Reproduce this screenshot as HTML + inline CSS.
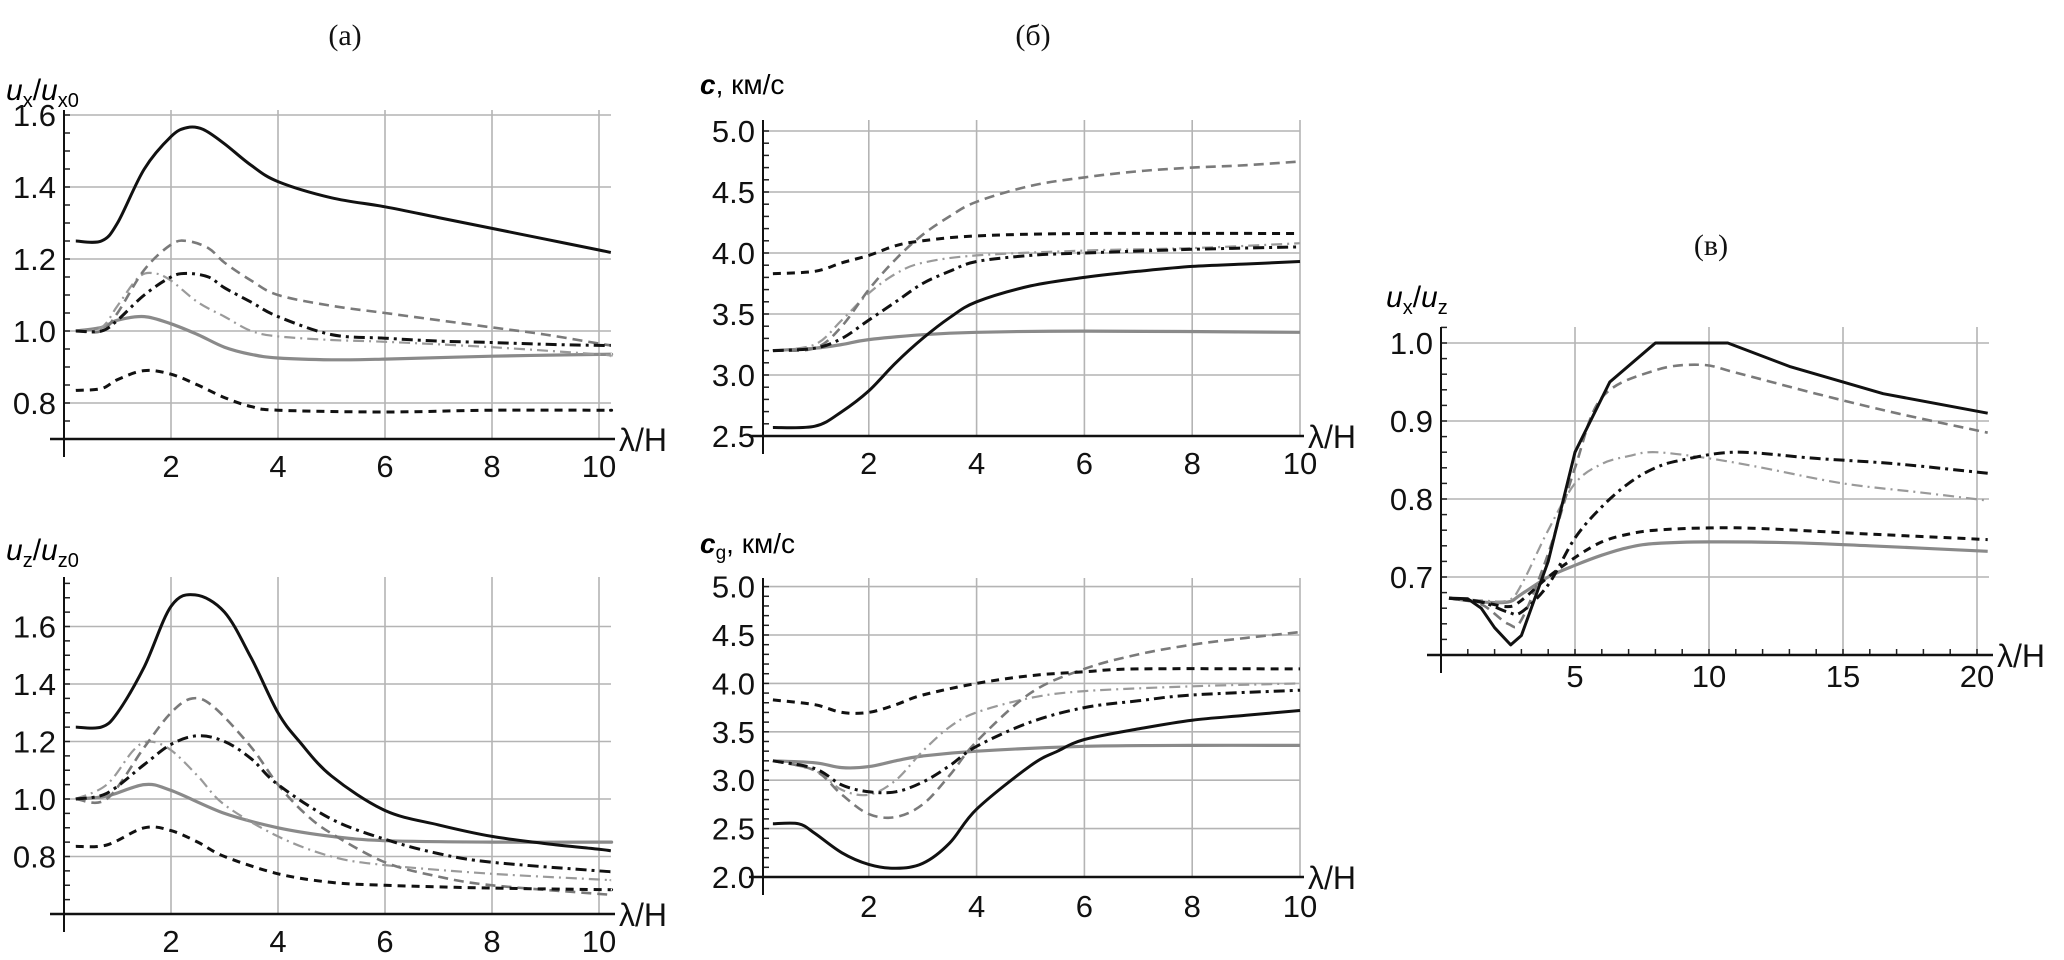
<!DOCTYPE html>
<html><head><meta charset="utf-8">
<style>
html,body{margin:0;padding:0;background:#fff;}
svg{display:block;}
text{font-family:"Liberation Sans",sans-serif;}
.tick{font-size:31px;fill:#111;}
.ttl{font-family:"Liberation Serif",serif;font-size:30px;fill:#111;}
</style></head>
<body>
<svg id="fig" width="2064" height="960" viewBox="0 0 2064 960" xmlns="http://www.w3.org/2000/svg">
<text class="ttl" x="345" y="45" text-anchor="middle">(a)</text>
<text class="ttl" x="1033" y="45" text-anchor="middle">(б)</text>
<text class="ttl" x="1711" y="255" text-anchor="middle">(в)</text>

<text x="6" y="100" font-size="30"><tspan font-style="italic">u</tspan><tspan font-size="20" dy="7">x</tspan><tspan dy="-7">/</tspan><tspan font-style="italic">u</tspan><tspan font-size="20" dy="7">x0</tspan></text>
<text x="6" y="560" font-size="30"><tspan font-style="italic">u</tspan><tspan font-size="20" dy="7">z</tspan><tspan dy="-7">/</tspan><tspan font-style="italic">u</tspan><tspan font-size="20" dy="7">z0</tspan></text>
<text x="700" y="94" font-size="28"><tspan font-style="italic" font-weight="bold">c</tspan>, км/с</text>
<text x="700" y="553" font-size="28"><tspan font-style="italic" font-weight="bold">c</tspan><tspan font-size="19" dy="6">g</tspan><tspan dy="-6">, км/с</tspan></text>
<text x="1386" y="307" font-size="30"><tspan font-style="italic">u</tspan><tspan font-size="20" dy="7">x</tspan><tspan dy="-7">/</tspan><tspan font-style="italic">u</tspan><tspan font-size="20" dy="7">z</tspan></text>
</svg>
<script>
// ---- panel (a) top: ux/ux0 ----
const aTopBlackSolidX=[0.22,0.7,1,1.5,2,2.3,2.6,3,3.5,4,5,6,7,8,9,10,10.22];
const aTopBlackSolidY=[1.25,1.25,1.3,1.45,1.54,1.565,1.56,1.52,1.46,1.415,1.37,1.345,1.315,1.285,1.255,1.225,1.218];
const aTopGrayDashedX=[0.22,0.7,1,1.5,2,2.3,2.7,3,3.5,4,5,6,7,8,9,10,10.22];
const aTopGrayDashedY=[1.0,1.0,1.05,1.17,1.24,1.25,1.23,1.19,1.14,1.1,1.07,1.05,1.03,1.01,0.99,0.965,0.96];
const aTopBlackDashDotX=[0.22,0.7,1,1.5,2,2.3,2.7,3,3.5,4,5,6,7,8,9,10,10.22];
const aTopBlackDashDotY=[1.0,1.0,1.03,1.1,1.15,1.16,1.15,1.12,1.08,1.04,0.99,0.98,0.972,0.968,0.963,0.96,0.96];
const aTopLightDashDotX=[0.22,0.7,1,1.4,1.7,2,2.5,3,3.5,4,5,6,8,10,10.22];
const aTopLightDashDotY=[1.0,1.01,1.07,1.15,1.16,1.14,1.08,1.04,1.0,0.985,0.975,0.97,0.955,0.935,0.93];
const aTopGraySolidX=[0.22,0.7,1,1.5,2,2.5,3,3.5,4,5,6,8,10,10.22];
const aTopGraySolidY=[1.0,1.01,1.03,1.04,1.02,0.99,0.955,0.935,0.925,0.92,0.922,0.93,0.935,0.935];
const aTopBlackDashedX=[0.22,0.7,1,1.5,2,2.5,3,3.5,4,6,8,10,10.22];
const aTopBlackDashedY=[0.835,0.84,0.865,0.89,0.88,0.85,0.815,0.79,0.78,0.775,0.78,0.78,0.78];
const aTopYTicks=[0.8,1.0,1.2,1.4,1.6];
const aTopYTickLabels=["0.8","1.0","1.2","1.4","1.6"];
const aXTicks=[2,4,6,8,10];
const aXTickLabels=["2","4","6","8","10"];

// ---- panel (a) bottom: uz/uz0 ----
const aBotBlackSolidX=[0.22,0.7,1,1.5,2,2.45,3,3.5,4,4.4,5,6,7,8,9,10,10.22];
const aBotBlackSolidY=[1.25,1.25,1.3,1.46,1.67,1.71,1.65,1.49,1.3,1.2,1.08,0.96,0.91,0.87,0.845,0.825,0.82];
const aBotGrayDashedX=[0.22,0.8,1.5,2,2.4,2.8,3.5,4,4.5,5,6,7,8,10,10.22];
const aBotGrayDashedY=[1.0,1.0,1.18,1.3,1.35,1.32,1.18,1.05,0.95,0.88,0.78,0.73,0.7,0.67,0.668];
const aBotBlackDashDotX=[0.22,0.8,1.5,2,2.5,3,3.5,4,5,6,7,8,10,10.22];
const aBotBlackDashDotY=[1.0,1.02,1.12,1.19,1.22,1.2,1.14,1.05,0.93,0.86,0.81,0.78,0.75,0.748];
const aBotLightDashDotX=[0.22,0.8,1.3,1.6,2,2.5,3,4,5,6,8,10,10.22];
const aBotLightDashDotY=[1.0,1.05,1.17,1.2,1.17,1.08,0.98,0.87,0.8,0.77,0.74,0.72,0.718];
const aBotGraySolidX=[0.22,0.8,1.5,2,3,4,5,6,8,10,10.22];
const aBotGraySolidY=[1.0,1.01,1.05,1.03,0.95,0.9,0.87,0.855,0.85,0.85,0.85];
const aBotBlackDashedX=[0.22,0.8,1.5,2,2.5,3,4,5,6,8,10,10.22];
const aBotBlackDashedY=[0.835,0.84,0.9,0.89,0.85,0.8,0.74,0.71,0.7,0.69,0.685,0.685];
const aBotYTicks=[0.8,1.0,1.2,1.4,1.6];
const aBotYTickLabels=["0.8","1.0","1.2","1.4","1.6"];

// ---- panel (б) top: c ----
const bTopBlackSolidX=[0.22,1,1.5,2,2.5,3,3.5,4,5,6,7,8,9,10];
const bTopBlackSolidY=[2.57,2.58,2.7,2.87,3.1,3.3,3.47,3.6,3.73,3.8,3.85,3.89,3.91,3.93];
const bTopGrayDashedX=[0.22,1,1.5,2,2.5,3,3.5,4,5,6,7,8,9,10];
const bTopGrayDashedY=[3.2,3.22,3.4,3.7,3.95,4.15,4.3,4.42,4.55,4.62,4.67,4.7,4.72,4.75];
const bTopBlackDashDotX=[0.22,1,1.5,2,2.5,3,3.5,4,5,6,8,10];
const bTopBlackDashDotY=[3.2,3.22,3.3,3.45,3.6,3.75,3.85,3.93,3.98,4.0,4.03,4.05];
const bTopLightDashDotX=[0.22,1,1.5,2,2.5,3,4,6,8,10];
const bTopLightDashDotY=[3.2,3.25,3.45,3.67,3.83,3.92,3.98,4.02,4.04,4.08];
const bTopGraySolidX=[0.22,1,1.5,2,3,4,6,10];
const bTopGraySolidY=[3.2,3.22,3.25,3.29,3.33,3.35,3.36,3.35];
const bTopBlackDashedX=[0.22,1,1.5,2,2.5,3,4,6,10];
const bTopBlackDashedY=[3.83,3.85,3.92,3.98,4.06,4.1,4.14,4.16,4.16];
const bTopYTicks=[2.5,3.0,3.5,4.0,4.5,5.0];
const bTopYTickLabels=["2.5","3.0","3.5","4.0","4.5","5.0"];
const bXTicks=[2,4,6,8,10];
const bXTickLabels=["2","4","6","8","10"];

// ---- panel (б) bottom: cg ----
const bBotBlackSolidX=[0.22,0.7,1,1.5,2,2.5,3,3.5,4,5,5.5,6,7,8,9,10];
const bBotBlackSolidY=[2.55,2.55,2.45,2.25,2.13,2.09,2.14,2.35,2.7,3.15,3.3,3.42,3.53,3.62,3.67,3.72];
const bBotGrayDashedX=[0.22,1,1.5,2,2.5,3,3.5,4,5,6,7,8,9,10];
const bBotGrayDashedY=[3.2,3.1,2.85,2.65,2.62,2.75,3.05,3.4,3.9,4.15,4.3,4.4,4.47,4.53];
const bBotBlackDashDotX=[0.22,1,1.5,2,2.5,3,3.5,4,5,6,7,8,10];
const bBotBlackDashDotY=[3.2,3.12,2.95,2.88,2.88,2.98,3.15,3.35,3.6,3.75,3.82,3.88,3.93];
const bBotLightDashDotX=[0.22,1,1.5,2,2.5,3,3.5,4,5,6,8,10];
const bBotLightDashDotY=[3.2,3.1,2.9,2.85,3.0,3.3,3.55,3.7,3.85,3.92,3.97,4.0];
const bBotGraySolidX=[0.22,1,1.5,2,2.5,3,4,6,8,10];
const bBotGraySolidY=[3.2,3.18,3.13,3.14,3.2,3.25,3.3,3.35,3.36,3.36];
const bBotBlackDashedX=[0.22,1,1.5,2,2.5,3,4,5,6,7,10];
const bBotBlackDashedY=[3.83,3.78,3.7,3.7,3.78,3.88,4.0,4.08,4.12,4.15,4.15];
const bBotYTicks=[2.0,2.5,3.0,3.5,4.0,4.5,5.0];
const bBotYTickLabels=["2.0","2.5","3.0","3.5","4.0","4.5","5.0"];

// ---- panel (в): ux/uz ----
const cBlackSolidX=[0.3,1,1.5,2,2.6,3,4,5,6.3,8,10.7,13,16.5,20.4];
const cBlackSolidY=[0.673,0.672,0.66,0.635,0.613,0.625,0.72,0.86,0.95,1.0,1.0,0.97,0.935,0.91];
const cGrayDashedX=[0.3,1.5,2.5,3,4,5,6,8,9.7,11,14,17,20.4];
const cGrayDashedY=[0.673,0.665,0.64,0.645,0.73,0.84,0.93,0.965,0.972,0.962,0.935,0.91,0.885];
const cBlackDashDotX=[0.3,1.5,2.5,3,4,5,6,7,8,9,11,14,17,20.4];
const cBlackDashDotY=[0.673,0.668,0.655,0.655,0.69,0.75,0.79,0.82,0.84,0.85,0.86,0.852,0.845,0.833];
const cLightDashDotX=[0.3,1.5,2.5,3,4,5,6,7,8,10,12,15,18,20.4];
const cLightDashDotY=[0.673,0.67,0.67,0.69,0.76,0.82,0.845,0.855,0.86,0.852,0.84,0.82,0.808,0.798];
const cBlackDashedX=[0.3,1.5,2.5,3,4,5,6,7,8,10,12,16,20.4];
const cBlackDashedY=[0.673,0.668,0.662,0.67,0.7,0.725,0.745,0.755,0.76,0.763,0.762,0.755,0.748];
const cGraySolidX=[0.3,1.5,2.5,3,4,5,6,7,8,10,13,16,20.4];
const cGraySolidY=[0.673,0.668,0.668,0.678,0.7,0.715,0.728,0.738,0.743,0.745,0.744,0.74,0.733];
const cYTicks=[0.7,0.8,0.9,1.0];
const cYTickLabels=["0.7","0.8","0.9","1.0"];
const cXTicks=[5,10,15,20];
const cXTickLabels=["5","10","15","20"];

const NS="http://www.w3.org/2000/svg";
const svg=document.getElementById('fig');
const STY=[
 {c:"#111",w:3,d:""},
 {c:"#7a7a7a",w:2.6,d:"10,6"},
 {c:"#111",w:3,d:"11,5,3,5"},
 {c:"#9a9a9a",w:2.2,d:"11,5,2,5"},
 {c:"#8a8a8a",w:3.2,d:""},
 {c:"#111",w:3,d:"8,6"}];
function mk(tag,attrs){const e=document.createElementNS(NS,tag);for(const k in attrs)e.setAttribute(k,attrs[k]);svg.appendChild(e);return e;}
function smooth(pts,linear){
 let d="M"+pts[0][0].toFixed(1)+","+pts[0][1].toFixed(1);
 for(let i=0;i<pts.length-1;i++){
  const p1=pts[i],p2=pts[i+1];
  if(linear){d+=" L"+p2[0].toFixed(1)+","+p2[1].toFixed(1);continue;}
  const p0=pts[Math.max(0,i-1)],p3=pts[Math.min(pts.length-1,i+2)];
  const c1x=p1[0]+(p2[0]-p0[0])/6,c1y=p1[1]+(p2[1]-p0[1])/6;
  const c2x=p2[0]-(p3[0]-p1[0])/6,c2y=p2[1]-(p3[1]-p1[1])/6;
  d+=" C"+c1x.toFixed(1)+","+c1y.toFixed(1)+" "+c2x.toFixed(1)+","+c2y.toFixed(1)+" "+p2[0].toFixed(1)+","+p2[1].toFixed(1);
 }
 return d;
}
function panel(p){
 const sx=v=>p.x0+v*p.kx, sy=v=>p.yRef-(v-p.vRef)*p.ky;
 p.yt.forEach((v,i)=>{
  const g=mk('line',{x1:p.axX,x2:p.right,y1:sy(v),y2:sy(v),stroke:"#b4b4b4","stroke-width":1.6});
  
  
  const t=mk('text',{x:p.axX-8,y:sy(v)+11,"text-anchor":"end",class:"tick"});
  t.textContent=p.yl[i];
  
  
 });
 p.xt.forEach((v,i)=>{
  const g=mk('line',{x1:sx(v),x2:sx(v),y1:p.top,y2:p.bottom,stroke:"#b4b4b4","stroke-width":1.6});
  
  
  const t=mk('text',{x:sx(v),y:p.bottom+p.lblOff,"text-anchor":"middle",class:"tick"});
  t.textContent=p.xl[i];
  
  
 });
 for(let v=p.ymin;v<=p.ymax+1e-9;v+=p.minor){
  const y=sy(v); if(y<p.top-1||y>p.bottom) continue;
  const m=mk('line',{x1:p.axX,x2:p.axX+6,y1:y,y2:y,stroke:"#222","stroke-width":1.5});
  
  
 }
 if(p.xminor){for(let v=1;v<=p.xmax;v+=1){const m=mk('line',{x1:sx(v),x2:sx(v),y1:p.bottom,y2:p.bottom-6,stroke:"#222","stroke-width":1.5});
  
  }}
 const ya=mk('line',{x1:p.axX,x2:p.axX,y1:p.top,y2:p.bottom+18,stroke:"#111","stroke-width":2});
 
 
 const xa=mk('line',{x1:p.axX-14,x2:p.right+4,y1:p.bottom,y2:p.bottom,stroke:"#111","stroke-width":2.4});
 
 
 const lab=mk('text',{x:p.right+8,y:p.bottom+12,"font-size":"32",fill:"#111"});
 lab.textContent="λ/H";
 
 
 p.series.forEach((s,i)=>{
  const st=STY[s.s];
  const pts=s.x.map((xv,j)=>[sx(xv),sy(s.y[j])]);
  const path=mk('path',{d:smooth(pts,s.lin),fill:"none",stroke:st.c,"stroke-width":st.w,"stroke-dasharray":st.d,"stroke-linejoin":"round"});
  
  
 });
}
panel({id:'ux-panel',x0:64,kx:53.5,axX:64,right:611,top:110,bottom:439,yRef:331,vRef:1.0,ky:360,ymin:0.7,ymax:1.65,minor:0.05,
 yt:aTopYTicks,yl:aTopYTickLabels,xt:aXTicks,xl:aXTickLabels,lblOff:38,
 series:[{s:4,n:'gray-solid-line',x:aTopGraySolidX,y:aTopGraySolidY},{s:3,n:'light-dashdot-line',x:aTopLightDashDotX,y:aTopLightDashDotY},
 {s:1,n:'gray-dashed-line',x:aTopGrayDashedX,y:aTopGrayDashedY},{s:2,n:'black-dashdot-line',x:aTopBlackDashDotX,y:aTopBlackDashDotY},
 {s:5,n:'black-dashed-line',x:aTopBlackDashedX,y:aTopBlackDashedY},{s:0,n:'black-solid-line',x:aTopBlackSolidX,y:aTopBlackSolidY}]});
panel({id:'uz-panel',x0:64,kx:53.5,axX:64,right:611,top:577,bottom:914,yRef:799,vRef:1.0,ky:287.5,ymin:0.6,ymax:1.8,minor:0.05,
 yt:aBotYTicks,yl:aBotYTickLabels,xt:aXTicks,xl:aXTickLabels,lblOff:38,
 series:[{s:4,n:'gray-solid-line',x:aBotGraySolidX,y:aBotGraySolidY},{s:3,n:'light-dashdot-line',x:aBotLightDashDotX,y:aBotLightDashDotY},
 {s:1,n:'gray-dashed-line',x:aBotGrayDashedX,y:aBotGrayDashedY},{s:2,n:'black-dashdot-line',x:aBotBlackDashDotX,y:aBotBlackDashDotY},
 {s:5,n:'black-dashed-line',x:aBotBlackDashedX,y:aBotBlackDashedY},{s:0,n:'black-solid-line',x:aBotBlackSolidX,y:aBotBlackSolidY}]});
panel({id:'c-panel',x0:761,kx:53.9,axX:763,right:1300,top:120,bottom:436,yRef:436,vRef:2.5,ky:122,ymin:2.5,ymax:5.1,minor:0.1,
 yt:bTopYTicks,yl:bTopYTickLabels,xt:bXTicks,xl:bXTickLabels,lblOff:38,
 series:[{s:4,n:'gray-solid-line',x:bTopGraySolidX,y:bTopGraySolidY},{s:3,n:'light-dashdot-line',x:bTopLightDashDotX,y:bTopLightDashDotY},
 {s:1,n:'gray-dashed-line',x:bTopGrayDashedX,y:bTopGrayDashedY},{s:2,n:'black-dashdot-line',x:bTopBlackDashDotX,y:bTopBlackDashDotY},
 {s:5,n:'black-dashed-line',x:bTopBlackDashedX,y:bTopBlackDashedY},{s:0,n:'black-solid-line',x:bTopBlackSolidX,y:bTopBlackSolidY}]});
panel({id:'cg-panel',x0:761,kx:53.9,axX:763,right:1300,top:578,bottom:877,yRef:877,vRef:2.0,ky:96.8,ymin:2.0,ymax:5.1,minor:0.1,
 yt:bBotYTicks,yl:bBotYTickLabels,xt:bXTicks,xl:bXTickLabels,lblOff:40,
 series:[{s:4,n:'gray-solid-line',x:bBotGraySolidX,y:bBotGraySolidY},{s:3,n:'light-dashdot-line',x:bBotLightDashDotX,y:bBotLightDashDotY},
 {s:1,n:'gray-dashed-line',x:bBotGrayDashedX,y:bBotGrayDashedY},{s:2,n:'black-dashdot-line',x:bBotBlackDashDotX,y:bBotBlackDashDotY},
 {s:5,n:'black-dashed-line',x:bBotBlackDashedX,y:bBotBlackDashedY},{s:0,n:'black-solid-line',x:bBotBlackSolidX,y:bBotBlackSolidY}]});
panel({id:'ratio-panel',x0:1441,kx:26.8,axX:1441,right:1989,top:327,bottom:655,yRef:343,vRef:1.0,ky:780,ymin:0.6,ymax:1.02,minor:0.02,xminor:true,xmax:20,
 yt:cYTicks,yl:cYTickLabels,xt:cXTicks,xl:cXTickLabels,lblOff:32,
 series:[{s:4,n:'gray-solid-line',x:cGraySolidX,y:cGraySolidY},{s:3,n:'light-dashdot-line',x:cLightDashDotX,y:cLightDashDotY},
 {s:1,n:'gray-dashed-line',x:cGrayDashedX,y:cGrayDashedY},{s:2,n:'black-dashdot-line',x:cBlackDashDotX,y:cBlackDashDotY},
 {s:5,n:'black-dashed-line',x:cBlackDashedX,y:cBlackDashedY},{s:0,n:'black-solid-line',x:cBlackSolidX,y:cBlackSolidY,lin:true}]});
</script>
</body></html>
